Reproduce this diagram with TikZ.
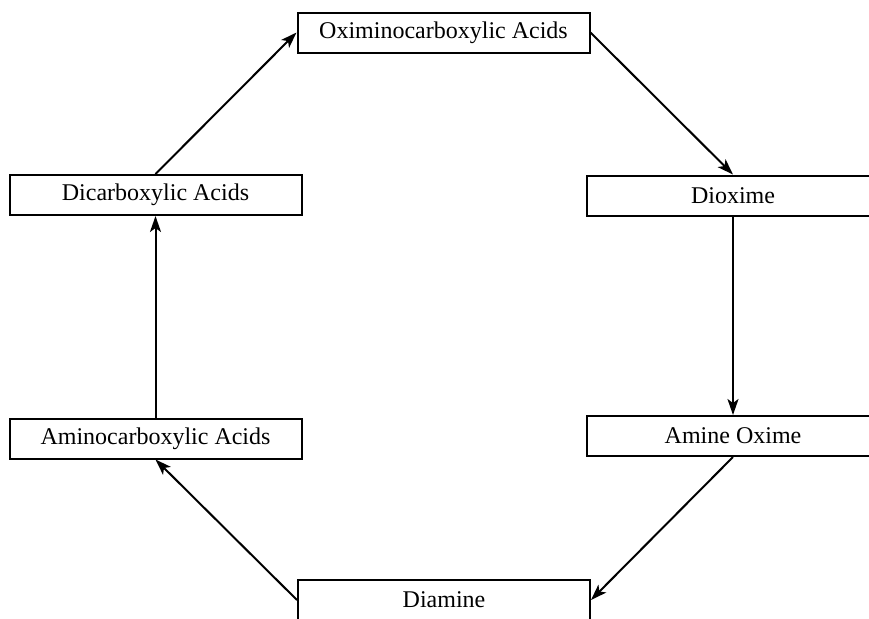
\documentclass[tikz,border=0pt]{standalone}
\usepackage{fontspec}
\setmainfont{Liberation Serif}
\usepackage{tikz}
\usetikzlibrary{arrows.meta}

\begin{document}
\begin{tikzpicture}[
  x=0.5pt, y=-0.5pt,
  font=\fontsize{12}{14}\selectfont, >=Stealth,
  acidBox/.style={draw, line width=1pt, fill=white, align=center,
               minimum width=146pt, minimum height=20pt, inner sep=2pt},
  arr/.style={-{Stealth[length=8pt, width=5.5pt, inset=2pt]}, line width=1pt},
]
\useasboundingbox (0,0) rectangle (869,618);
\clip (0,0) rectangle (869,618);
\node[acidBox] (oxa) at (443.5,32.5) {Oximinocarboxylic Acids};
\node[acidBox] (dca) at (155.5,195)  {Dicarboxylic Acids};
\node[acidBox] (dio) at (733,195.5)  {Dioxime};
\node[acidBox] (aca) at (155.5,438.5) {Aminocarboxylic Acids};
\node[acidBox] (amo) at (733,436)    {Amine Oxime};
\node[acidBox] (dia) at (444,600)    {Diamine};

\draw[arr] (dca.north) -- (oxa.west);
\draw[arr] (oxa.east) -- (dio.north);
\draw[arr] (dio.south) -- (amo.north);
\draw[arr] (amo.south) -- (dia.east);
\draw[arr] (dia.west) -- (aca.south);
\draw[arr] (aca.north) -- (dca.south);
\end{tikzpicture}
\end{document}
